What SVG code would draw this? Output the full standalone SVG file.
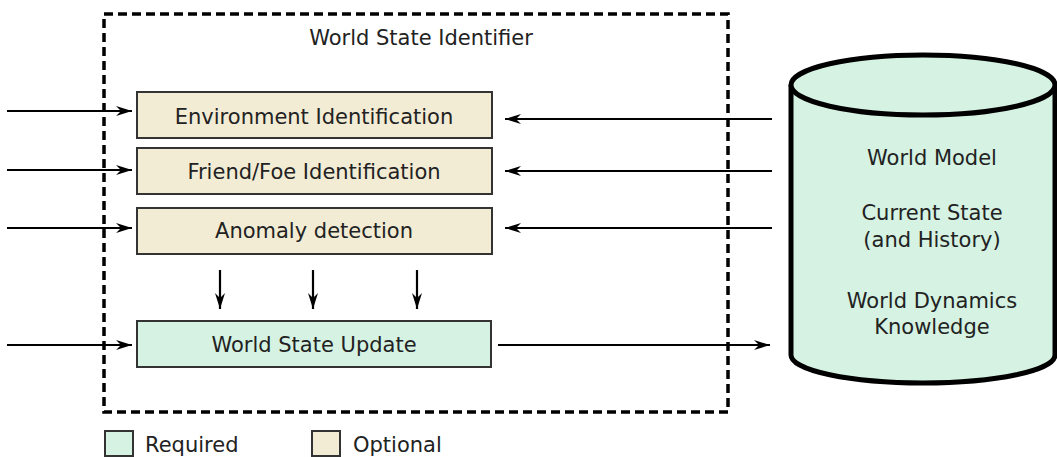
<svg xmlns="http://www.w3.org/2000/svg" width="1057" height="457" viewBox="0 0 1057 457">
<defs>
<style>
text{font-family:"DejaVu Sans","Verdana",sans-serif;font-size:21px;fill:#222;}
.opt{fill:#f2ecd5;stroke:#333;stroke-width:2;}
.req{fill:#d5f2e2;stroke:#333;stroke-width:2;}
.arr{stroke:#000;stroke-width:2.2;fill:none;marker-end:url(#ah);}
</style>
<marker id="ah" markerUnits="userSpaceOnUse" markerWidth="18" markerHeight="14" refX="16" refY="7" orient="auto">
<path d="M0,2 L16,7 L0,12 L5,7 z" fill="#000"/>
</marker>
</defs>
<rect width="1057" height="457" fill="#fff"/>
<g id="world-state-identifier">
<rect x="104" y="14" width="624" height="398" fill="none" stroke="#000" stroke-width="3.5" stroke-dasharray="9 5"/>
<text x="421" y="45" text-anchor="middle">World State Identifier</text>
</g>
<g id="env">
<rect class="opt" x="137" y="92" width="355" height="46"/>
<text x="314" y="124" text-anchor="middle">Environment Identification</text>
</g>
<g id="friend">
<rect class="opt" x="137" y="148" width="355" height="46"/>
<text x="314" y="179" text-anchor="middle">Friend/Foe Identification</text>
</g>
<g id="anomaly">
<rect class="opt" x="137" y="208" width="355" height="46"/>
<text x="314" y="238" text-anchor="middle">Anomaly detection</text>
</g>
<g id="update">
<rect class="req" x="137" y="321" width="354" height="46"/>
<text x="314" y="352" text-anchor="middle">World State Update</text>
</g>
<g id="world-model">
<path d="M791,85 L791,355 A132,28 0 0 0 1055,355 L1055,85" fill="#d5f2e2" stroke="#000" stroke-width="5"/>
<ellipse cx="923" cy="85" rx="132" ry="30" fill="#d5f2e2" stroke="#000" stroke-width="5"/>
<text x="932" y="165" text-anchor="middle">World Model</text>
<text x="932" y="220" text-anchor="middle">Current State</text>
<text x="932" y="247" text-anchor="middle">(and History)</text>
<text x="932" y="308" text-anchor="middle">World Dynamics</text>
<text x="932" y="334" text-anchor="middle">Knowledge</text>
</g>
<g id="legend">
<rect class="req" x="105" y="431" width="28" height="25"/>
<text x="145" y="452">Required</text>
<rect class="opt" x="312" y="431" width="28" height="25"/>
<text x="353" y="452">Optional</text>
</g>
<g id="connectors">
<line class="arr" x1="7" y1="111" x2="132" y2="111"/>
<line class="arr" x1="7" y1="170" x2="132" y2="170"/>
<line class="arr" x1="7" y1="228" x2="132" y2="228"/>
<line class="arr" x1="7" y1="345" x2="132" y2="345"/>
<line class="arr" x1="772" y1="119" x2="505" y2="119"/>
<line class="arr" x1="772" y1="171" x2="505" y2="171"/>
<line class="arr" x1="772" y1="228" x2="505" y2="228"/>
<line class="arr" x1="498" y1="345" x2="770" y2="345"/>
<line class="arr" x1="220" y1="270" x2="220" y2="309"/>
<line class="arr" x1="313" y1="270" x2="313" y2="309"/>
<line class="arr" x1="417" y1="270" x2="417" y2="309"/>
</g>
</svg>
